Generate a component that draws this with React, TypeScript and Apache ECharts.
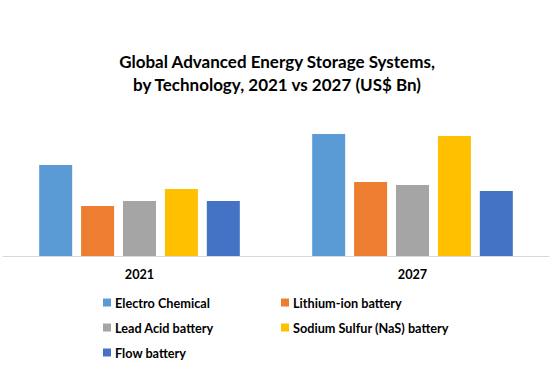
import React, { useEffect, useRef } from "react";
import * as echarts from "echarts";

const categories = ["2021", "2027"];
const seriesNames = [
  "Electro Chemical",
  "Lithium-ion battery",
  "Lead Acid battery",
  "Sodium Sulfur (NaS) battery",
  "Flow battery",
];
const electroChemical = [9.1, 12.2];
const lithiumIon = [5.0, 7.4];
const leadAcid = [5.5, 7.1];
const sodiumSulfur = [6.7, 12.0];
const flowBattery = [5.5, 6.5];
const colors = ["#5B9BD5", "#ED7D31", "#A5A5A5", "#FFC000", "#4472C4"];

const FONT = "Lato";

export default function App() {
  const ref = useRef<HTMLDivElement>(null);
  useEffect(() => {
    if (!ref.current) return;
    const chart = echarts.init(ref.current, undefined, { renderer: "svg" });
    const values = [electroChemical, lithiumIon, leadAcid, sodiumSulfur, flowBattery];
    const legendPos = [
      { left: 103, top: 296 },
      { left: 281, top: 296 },
      { left: 103, top: 321 },
      { left: 281, top: 321 },
      { left: 103, top: 346 },
    ];
    chart.setOption({
      animation: false,
      title: {
        text: "Global Advanced Energy Storage Systems,\nby Technology, 2021 vs 2027 (US$ Bn)",
        left: 272,
        textAlign: "center",
        top: 45,
        textStyle: {
          fontFamily: FONT,
          fontSize: 17,
          fontWeight: "bold",
          color: "#000",
          lineHeight: 23,
        },
      },
      legend: seriesNames.map((n, i) => ({
        data: [n],
        left: legendPos[i].left,
        top: legendPos[i].top,
        padding: 0,
        itemWidth: 8,
        itemHeight: 8,
        icon: "rect",
        textStyle: { fontFamily: FONT, fontSize: 12.7, fontWeight: "bold", color: "#000", padding: [0, 0, 0, -1] },
      })),
      grid: { left: 3, right: 8, top: 116, bottom: 370 - 256, containLabel: false },
      xAxis: {
        type: "category",
        data: categories,
        axisLine: { lineStyle: { color: "#d9d9d9", width: 1 } },
        axisTick: { show: false },
        axisLabel: { fontFamily: FONT, fontSize: 12.7, fontWeight: "bold", color: "#000", margin: 11 },
      },
      yAxis: {
        type: "value",
        min: 0,
        max: 14,
        show: false,
        splitLine: { show: false },
      },
      series: seriesNames.map((n, i) => ({
        name: n,
        type: "bar",
        data: values[i],
        barWidth: 33,
        barGap: "27%",
        itemStyle: { color: colors[i] },
      })),
    });
    return () => chart.dispose();
  }, []);
  return (
    <div
      ref={ref}
      style={{ position: "fixed", left: 0, top: 0, width: 557, height: 370, background: "#fff" }}
    />
  );
}
